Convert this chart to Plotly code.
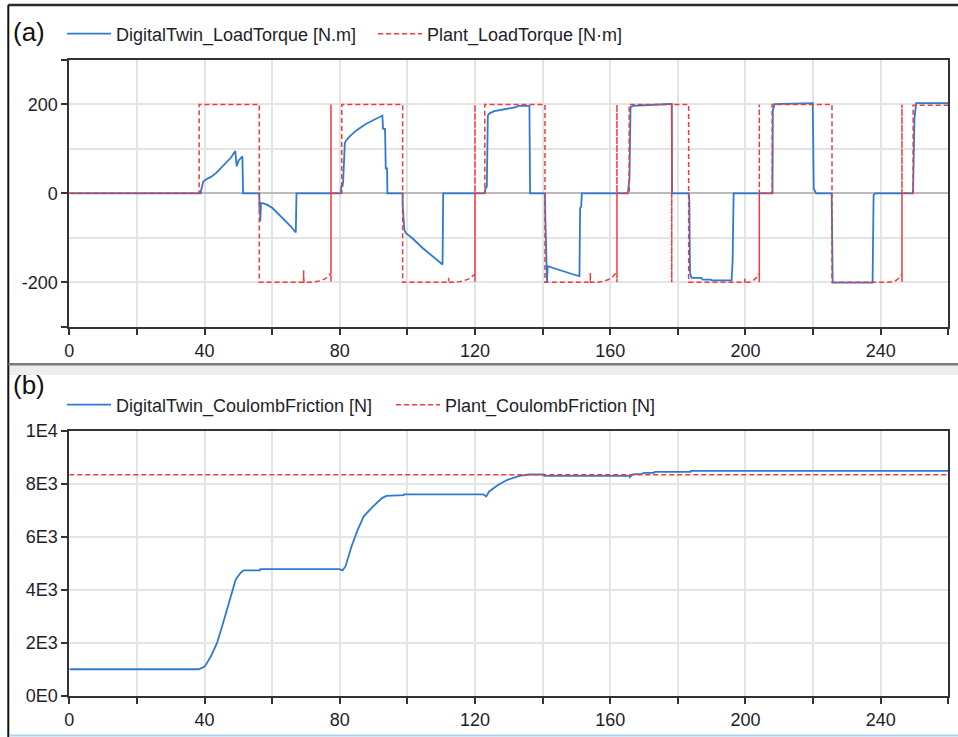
import plotly.graph_objects as go

W, H = 958, 737

# ---------------- data ----------------
# (a) load torque, digital twin (blue)
t_dt_torque = [0, 38.9, 38.9, 39.2, 39.6, 40.4, 41.9, 43.3, 44.8, 46.3, 47.8, 49.1, 49.5, 50.1, 51.2, 51.4,
               56.2, 56.3, 56.4, 56.5, 56.7, 57.2, 58.6, 60.1, 62.1, 64.1, 65.5, 67.0, 67.2,
               80.3, 80.5, 80.8, 81.0, 81.5, 81.8, 82.8, 84.8, 87.7, 90.7, 92.6, 92.8, 93.4, 93.6, 94.0, 94.1,
               98.6, 98.6, 98.9, 99.1, 99.5, 101.5, 104.5, 107.4, 110.4, 110.6,
               122.8, 123.1, 123.5, 123.8, 124.3, 125.7, 129.2, 132.1, 132.9, 136.1, 136.3,
               140.7, 140.8, 141.0, 141.3, 141.5, 143.0, 146.0, 148.9, 150.9, 151.1, 151.4, 151.6,
               165.2, 165.4, 165.7, 166.0, 166.7, 177.5, 178.2, 178.3,
               183.2, 183.4, 183.6, 184.1, 186.9, 187.4, 189.8, 190.0, 195.9, 196.2, 196.5,
               208.0, 208.1, 208.6, 219.9, 220.2, 220.9,
               225.5, 225.6, 225.8, 237.6, 237.9, 238.4,
               249.5, 249.6, 249.8, 250.0, 250.5, 260.0]
v_dt_torque = [0, 0, 4, 15, 26, 31, 37, 45, 56, 68, 80, 95, 61, 74, 83, 0,
               0, -41, -22, -63, -22, -22, -26, -33, -48, -63, -74, -88, 0,
               0, 18, 15, 26, 113, 118, 127, 141, 156, 168, 175, 145, 145, 56, 56, 0,
               0, -26, -60, -82, -89, -101, -123, -141, -160, 0,
               0, 11, 15, 175, 180, 185, 190, 194, 197, 197, 0,
               0, -52, -112, -200, -164, -168, -175, -182, -186, -33, -30, 0,
               0, 19, 34, 194, 197, 201, 201, 0,
               0, -15, -179, -190, -190, -194, -194, -196, -196, -153, 0,
               0, 186, 201, 203, 11, 0,
               0, -149, -201, -201, -4, 0,
               0, 15, 115, 170, 203, 203]

# (a) load torque, plant (red dashed)
t_plant_torque = [0, 38.4, 38.4, 56.2, 56.2, 69.3, 69.3, 69.4, 72.0, 74.0, 75.5, 76.5, 77.2,
                  77.4, 77.4, 77.4, 77.4, 77.4, 77.4, 77.4, 77.4, 77.4, 80.6, 80.6,
                  98.6, 98.6, 112.2, 112.2, 112.3, 114.5, 116.5, 118.0, 119.0, 119.9,
                  120.0, 120.0, 120.0, 120.0, 120.0, 120.0, 120.0, 120.0, 120.0, 122.9, 122.9,
                  140.7, 140.7, 154.1, 154.1, 154.2, 156.0, 158.0, 159.5, 160.7, 161.5,
                  162.0, 162.0, 162.0, 162.0, 162.0, 162.0, 162.0, 162.0, 162.0, 165.6, 165.6,
                  178.2, 178.2, 178.2, 183.2, 183.2, 199.8, 199.8, 199.9, 201.0, 202.3, 203.2, 203.8,
                  204.1, 204.1, 204.1, 204.1, 204.1, 204.1, 204.1, 204.1, 204.1, 207.9, 207.9,
                  225.6, 225.6, 242.6, 244.5, 245.5, 246.2,
                  246.3, 246.3, 246.3, 246.3, 246.3, 246.3, 246.3, 246.3, 246.3, 249.6, 249.6, 260.0]
v_plant_torque = [0, 0, 200, 200, -200, -200, -173, -200, -200, -197, -193, -188, -181,
                  -181, 200, -200, 200, -200, 200, -200, 200, 0, 0, 200,
                  200, -200, -200, -190, -200, -200, -197, -193, -188, -182,
                  -182, 200, -200, 200, -200, 200, -200, 200, 0, 0, 200,
                  200, -200, -200, -179, -200, -200, -198, -194, -188, -181,
                  -181, 200, -200, 200, -200, 200, -200, 200, 0, 0, 200,
                  200, -200, 200, 200, -200, -200, -192, -200, -200, -196, -190, -182,
                  -182, 200, -200, 200, -200, 200, -200, 200, 0, 0, 200,
                  200, -200, -200, -196, -190, -182,
                  -182, 200, -200, 200, -200, 200, -200, 200, 0, 0, 198, 198]

# (b) Coulomb friction, digital twin (blue)
t_dt_friction = [0, 38.3, 39.2, 40.1, 41.9, 43.7, 45.5, 47.4, 49.2, 50.6, 51.5, 56.4, 56.5, 79.9, 80.8,
                 81.7, 83.5, 85.3, 87.1, 89.8, 92.5, 93.8, 98.9, 99.0, 122.4, 123.3, 124.2, 126.9,
                 129.6, 133.2, 135.9, 140.4, 140.5, 165.7, 165.8, 166.6, 169.3, 170.0, 173.0, 173.1,
                 183.8, 183.9, 260.0]
v_dt_friction = [990, 990, 1040, 1100, 1480, 1985, 2740, 3620, 4370, 4620, 4720, 4720, 4770, 4770, 4720,
                 4870, 5630, 6250, 6760, 7130, 7450, 7530, 7560, 7590, 7590, 7510, 7700, 7950,
                 8140, 8290, 8340, 8340, 8290, 8290, 8240, 8340, 8365, 8400, 8400, 8440,
                 8440, 8480, 8480]

# (b) Coulomb friction, plant (red dashed)
t_plant_friction = [0, 260]
v_plant_friction = [8330, 8330]

# ticks
x_tickvals = list(range(0, 261, 20))
x_ticktext = [str(v) if (v % 40 == 0 and v < 260) else "" for v in x_tickvals]
ya_tickvals = [-300, -200, 0, 200, 300]
ya_ticktext = ["", "-200", "0", "200", ""]
yb_tickvals = [0, 2000, 4000, 6000, 8000, 10000]
yb_ticktext = ["0E0", "2E3", "4E3", "6E3", "8E3", "1E4"]

# ---------------- styling ----------------
BLUE = "#2E7AD3"
RED = "#F23A3A"
FONT = "Liberation Sans"
TXT = "#1E1E2A"
GRID = "#E4E4E4"
FS = 18


def px_x(p):
    return p / W


def px_y(p):
    return 1 - p / H


fig = go.Figure()
fig.add_trace(go.Scatter(x=t_dt_torque, y=v_dt_torque, mode="lines", name="DigitalTwin_LoadTorque [N.m]",
                         line=dict(color=BLUE, width=1.8), xaxis="x", yaxis="y", legend="legend"))
fig.add_trace(go.Scatter(x=t_plant_torque, y=v_plant_torque, mode="lines", name="Plant_LoadTorque [N·m]",
                         line=dict(color=RED, width=1.5, dash="5px,3px"), xaxis="x", yaxis="y", legend="legend2"))
fig.add_trace(go.Scatter(x=t_dt_friction, y=v_dt_friction, mode="lines", name="DigitalTwin_CoulombFriction [N]",
                         line=dict(color=BLUE, width=1.8), xaxis="x2", yaxis="y2", legend="legend3"))
fig.add_trace(go.Scatter(x=t_plant_friction, y=v_plant_friction, mode="lines", name="Plant_CoulombFriction [N]",
                         line=dict(color=RED, width=1.5, dash="5px,3px"), xaxis="x2", yaxis="y2", legend="legend4"))

xdom = [px_x(69.3), px_x(948.3)]
common_x = dict(range=[0, 260], tickmode="array", tickvals=x_tickvals, ticktext=x_ticktext,
                ticks="outside", ticklen=6, tickwidth=1.5, tickcolor="#333",
                showgrid=True, gridcolor=GRID, gridwidth=1.5, ticklabelstandoff=1,
                showline=True, linecolor="#333", linewidth=2, mirror=True, zeroline=False,
                tickfont=dict(family=FONT, size=FS, color=TXT), domain=xdom, fixedrange=True)


def leg(xp, yp):
    return dict(orientation="h", x=px_x(xp), y=px_y(yp), xanchor="left", yanchor="middle",
                font=dict(family=FONT, size=FS, color=TXT), bgcolor="rgba(0,0,0,0)",
                itemwidth=44, borderwidth=0)


fig.update_layout(
    width=W, height=H, margin=dict(l=0, r=0, t=0, b=0, autoexpand=False),
    paper_bgcolor="white", plot_bgcolor="white",
    xaxis=dict(common_x, anchor="y"),
    xaxis2=dict(common_x, anchor="y2"),
    yaxis=dict(range=[-300, 300], domain=[px_y(326.7), px_y(60)], anchor="x",
               tickmode="array", tickvals=ya_tickvals, ticktext=ya_ticktext,
               ticks="outside", ticklen=6, tickwidth=1.5, tickcolor="#333",
               showgrid=True, gridcolor=GRID, gridwidth=1.5,
               minor=dict(tickmode="array", tickvals=[-100, 100], showgrid=True, gridcolor=GRID,
                          gridwidth=1.5, ticks=""),
               zeroline=True, zerolinecolor="#BBBBBB", zerolinewidth=1.5,
               showline=True, linecolor="#333", linewidth=2, mirror=True,
               tickfont=dict(family=FONT, size=FS, color=TXT), fixedrange=True),
    yaxis2=dict(range=[0, 10000], domain=[px_y(695.5), px_y(430.5)], anchor="x2",
                tickmode="array", tickvals=yb_tickvals, ticktext=yb_ticktext,
                ticks="outside", ticklen=6, tickwidth=1.5, tickcolor="#333",
                showgrid=True, gridcolor=GRID, gridwidth=1.5, zeroline=False,
                showline=True, linecolor="#333", linewidth=2, mirror=True,
                tickfont=dict(family=FONT, size=FS, color=TXT), fixedrange=True),
    legend=leg(62, 34),
    legend2=leg(373, 34),
    legend3=leg(62, 405),
    legend4=leg(391, 405),
    showlegend=True,
)

shapes = [
    # outer frame
    dict(type="line", xref="paper", yref="paper", x0=px_x(8.3), x1=1, y0=px_y(5), y1=px_y(5),
         line=dict(color="#2A2A2A", width=2.5)),
    dict(type="line", xref="paper", yref="paper", x0=px_x(8.3), x1=px_x(8.3), y0=px_y(5), y1=0,
         line=dict(color="#111111", width=2)),
    # separator between panels
    dict(type="rect", xref="paper", yref="paper", x0=px_x(9.5), x1=1, y0=px_y(375), y1=px_y(365),
         fillcolor="#EDEDED", line=dict(width=0), layer="below"),
    dict(type="line", xref="paper", yref="paper", x0=px_x(8.3), x1=1, y0=px_y(364.3), y1=px_y(364.3),
         line=dict(color="#7A7A7A", width=2.5)),
    # bottom edge
    dict(type="line", xref="paper", yref="paper", x0=px_x(9.5), x1=1, y0=px_y(735.5), y1=px_y(735.5),
         line=dict(color="#A9D2F2", width=2)),
]
fig.update_layout(shapes=shapes)

fig.add_annotation(text="(a)", xref="paper", yref="paper", x=px_x(11), y=px_y(32), xanchor="left",
                   yanchor="middle", showarrow=False, font=dict(family=FONT, size=26, color="#111"))
fig.add_annotation(text="(b)", xref="paper", yref="paper", x=px_x(11), y=px_y(385), xanchor="left",
                   yanchor="middle", showarrow=False, font=dict(family=FONT, size=26, color="#111"))

fig.write_html("out.html", config={"displayModeBar": False},
               post_script="document.body.style.margin='0';document.body.style.overflow='hidden';")
